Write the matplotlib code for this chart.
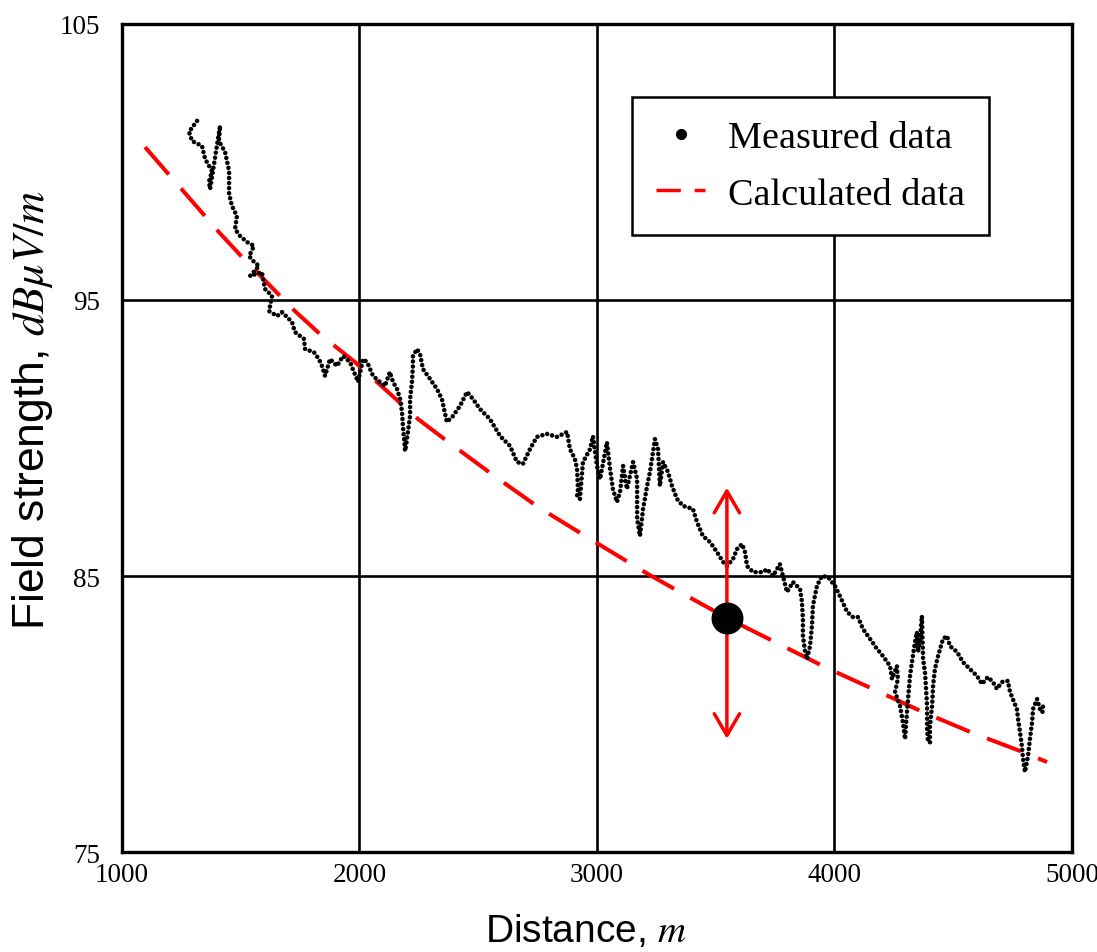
import matplotlib
matplotlib.use("Agg")
import matplotlib.pyplot as plt
from matplotlib.lines import Line2D

# measured field strength along the route (distance m, dBuV/m)
meas_dist = [1316, 1282, 1295, 1337, 1350, 1379, 1366, 1371, 1413, 1408, 1434, 1451, 1451, 1451,
             1463, 1484, 1476, 1497, 1526, 1556, 1535, 1556, 1577, 1539, 1589, 1602, 1632, 1619,
             1653, 1674, 1703, 1716, 1728, 1766, 1771, 1808, 1829, 1842, 1855, 1876, 1905, 1931,
             1960, 1989, 1994, 2015, 2032, 2057, 2086, 2107, 2128, 2141, 2158, 2171, 2179, 2183,
             2192, 2196, 2204, 2213, 2213, 2221, 2225, 2225, 2242, 2255, 2267, 2297, 2326, 2347,
             2368, 2394, 2423, 2453, 2478, 2507, 2549, 2592, 2634, 2663, 2688, 2718, 2747, 2789,
             2832, 2874, 2886, 2907, 2916, 2920, 2916, 2928, 2941, 2971, 2983, 3000, 3013, 3042,
             3055, 3067, 3084, 3097, 3110, 3126, 3152, 3169, 3169, 3181, 3194, 3211, 3223, 3236,
             3244, 3257, 3265, 3278, 3299, 3316, 3337, 3362, 3404, 3421, 3446, 3476, 3505, 3531,
             3547, 3573, 3590, 3611, 3623, 3632, 3657, 3699, 3716, 3741, 3770, 3783, 3800, 3825,
             3855, 3863, 3867, 3867, 3876, 3884, 3897, 3905, 3909, 3926, 3947, 3973, 4002, 4023,
             4053, 4078, 4099, 4120, 4150, 4179, 4204, 4234, 4242, 4263, 4267, 4255, 4276, 4288,
             4297, 4305, 4318, 4330, 4339, 4347, 4352, 4360, 4368, 4373, 4381, 4390, 4390, 4394,
             4402, 4402, 4411, 4415, 4423, 4436, 4457, 4474, 4486, 4516, 4541, 4570, 4600, 4621,
             4646, 4667, 4684, 4705, 4730, 4739, 4751, 4768, 4773, 4781, 4789, 4794, 4802, 4815,
             4823, 4832, 4836, 4853, 4865, 4878, 4874]
meas_db = [101.49, 101.09, 100.76, 100.58, 100.11, 99.67, 99.28, 99.02, 101.31, 100.76, 100.36,
           99.67, 99.20, 98.84, 98.41, 98.04, 97.57, 97.32, 97.10, 96.96, 96.59, 96.38, 96.23,
           95.87, 96.01, 95.40, 95.15, 94.60, 94.42, 94.56, 94.31, 94.20, 93.84, 93.59, 93.22,
           93.11, 92.86, 92.61, 92.25, 92.86, 92.61, 92.97, 92.75, 92.14, 92.03, 92.86, 92.75,
           92.25, 92.03, 91.88, 92.39, 92.03, 91.78, 91.41, 90.94, 90.43, 89.53, 89.71, 90.22,
           90.80, 91.41, 92.03, 92.61, 92.97, 93.22, 93.04, 92.50, 92.14, 91.78, 91.41, 90.58,
           90.80, 91.16, 91.67, 91.41, 91.05, 90.69, 90.07, 89.71, 89.13, 89.06, 89.60, 90.04,
           90.15, 90.04, 90.22, 89.60, 89.24, 88.88, 88.15, 87.90, 87.79, 89.13, 89.60, 90.07,
           88.99, 88.51, 89.85, 88.88, 88.15, 87.68, 88.04, 88.99, 88.15, 89.13, 88.51, 87.07,
           86.45, 87.43, 88.26, 88.77, 89.49, 89.96, 89.60, 88.26, 89.13, 88.77, 88.26, 87.79,
           87.54, 87.43, 86.96, 86.45, 86.23, 85.87, 85.51, 85.36, 85.62, 85.98, 86.16, 85.87,
           85.36, 85.14, 85.14, 85.25, 85.00, 85.43, 85.00, 84.42, 84.78, 84.53, 84.06, 83.44,
           82.83, 82.28, 81.99, 82.46, 83.19, 83.91, 84.64, 85.00, 84.96, 84.64, 84.27, 83.70,
           83.51, 83.51, 83.08, 82.72, 82.36, 82.10, 81.74, 81.27, 81.74, 81.27, 80.80, 80.29,
           79.71, 79.09, 80.07, 81.38, 82.10, 82.61, 82.97, 82.25, 82.72, 83.55, 81.99, 81.52,
           80.29, 79.46, 78.98, 78.98, 79.56, 80.29, 81.02, 81.63, 82.10, 82.72, 82.83, 82.46,
           82.25, 81.88, 81.63, 81.38, 81.09, 81.34, 81.16, 80.91, 81.16, 81.20, 80.80, 80.54,
           80.18, 79.82, 79.35, 78.84, 78.37, 77.90, 78.48, 79.09, 79.71, 80.18, 80.54, 80.18,
           80.29, 79.93]

# calculated (model) curve
calc_dist = [1097, 1408, 1505, 1728, 1842, 1981, 2246, 2373, 2562, 2752, 2958, 3215, 3349,
             3547, 3749, 3960, 4171, 4373, 4583, 4794, 4895]
calc_db = [100.54, 97.46, 96.56, 94.60, 93.70, 92.75, 90.69, 89.86, 88.66, 87.50, 86.41, 85.07,
           84.42, 83.48, 82.61, 81.70, 80.87, 80.07, 79.31, 78.62, 78.26]

# highlighted point and its spread arrow
point_dist = 3547
point_db = 83.48
arrow_top = 88.2
arrow_bottom = 79.1

plt.rcParams['mathtext.fontset'] = 'stix'

fig = plt.figure(figsize=(10.97, 9.53), dpi=100)
ax = fig.add_axes([0.1112, 0.1049, 0.866, 0.8689])

ax.plot(calc_dist, calc_db, color='red', lw=2.9, dashes=(9, 4.6), dash_capstyle='butt', zorder=3)
ax.plot(meas_dist, meas_db, color='black', lw=3.3, linestyle=(0, (0.01, 1.1)),
        dash_capstyle='round', solid_capstyle='round', zorder=4)

ax.annotate('', xy=(point_dist, arrow_top), xytext=(point_dist, arrow_bottom),
            arrowprops=dict(arrowstyle='<->,head_length=0.6,head_width=0.35', color='red',
                            lw=2.5, mutation_scale=26, shrinkA=0, shrinkB=0), zorder=5)
ax.plot([point_dist], [point_db], 'o', color='black', ms=22, zorder=6)

ax.set_xlim(1000, 5000)
ax.set_ylim(75, 105)
ax.set_xticks([1000, 2000, 3000, 4000, 5000])
ax.set_yticks([75, 85, 95, 105])
ax.grid(True, color='black', lw=1.9)
ax.set_axisbelow(True)
ax.tick_params(length=0, labelsize=19.5, pad=7)
ax.tick_params(axis='y', pad=16)
for lab in ax.get_xticklabels() + ax.get_yticklabels():
    lab.set_family('Liberation Serif')
for s in ax.spines.values():
    s.set_linewidth(2.4)

ax.set_xlabel('Distance, $m$', fontsize=28, family='Liberation Sans')
ax.set_ylabel('Field strength, $dB\\mu V/m$', fontsize=32, family='Liberation Sans')
ax.xaxis.set_label_coords(0.489, -0.073)
ax.yaxis.set_label_coords(-0.07, 0.535)

handles = [Line2D([], [], marker='o', ls='none', color='black', ms=7),
           Line2D([], [], color='red', lw=2.5, dashes=(7, 4))]
leg = ax.legend(handles, ['Measured data', 'Calculated data'], loc='upper left',
                bbox_to_anchor=(0.537, 0.912), prop={'family': 'Liberation Serif', 'size': 27.5},
                frameon=True, fancybox=False, framealpha=1, edgecolor='black',
                handlelength=1.3, handletextpad=0.6, labelspacing=0.57, borderpad=0.62,
                borderaxespad=0)
leg.get_frame().set_linewidth(1.8)

fig.savefig('out.png', dpi=100)
